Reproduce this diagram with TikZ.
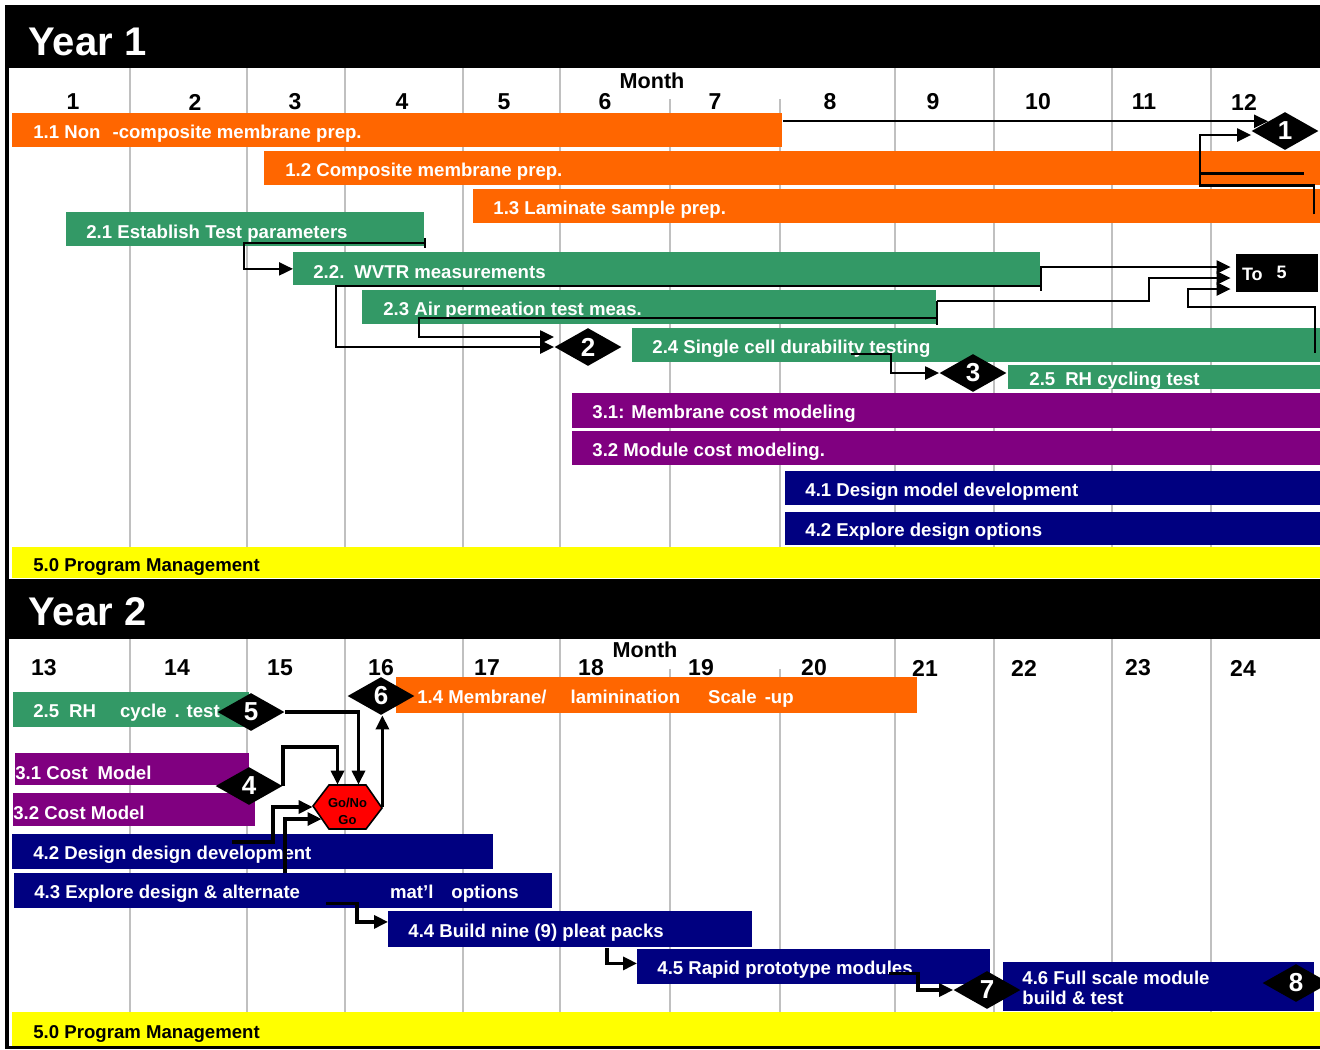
\documentclass[tikz,border=0pt]{standalone}
\usepackage{fontspec}
\setmainfont{Liberation Sans}
\usetikzlibrary{shapes.geometric, arrows.meta}

\definecolor{taskorange}{HTML}{FF6600}
\definecolor{taskgreen}{HTML}{339966}
\definecolor{taskpurple}{HTML}{800080}
\definecolor{tasknavy}{HTML}{000080}
\definecolor{taskyellow}{HTML}{FFFF00}
\definecolor{gridgray}{HTML}{C0C0C0}

\begin{document}
\begin{tikzpicture}[x=0.5pt, y=-0.5pt,
		task/.style={rectangle, inner sep=0pt, anchor=north west},
		tasklabel/.style={anchor=west, inner sep=0pt, yshift=-1.5pt, text=white, align=left, font=\bfseries\fontsize{9.3}{10}\selectfont},
		milestone/.style={diamond, fill=black, text=white, inner sep=0pt, minimum width=33.5pt, minimum height=19pt, font=\bfseries\fontsize{13}{13}\selectfont},
		monthnum/.style={inner sep=0pt, font=\bfseries\fontsize{11.5}{12}\selectfont},
		monthtitle/.style={inner sep=0pt, font=\bfseries\fontsize{10.8}{11}\selectfont},
		yeartitle/.style={anchor=west, inner sep=0pt, text=white, font=\bfseries\fontsize{20}{20}\selectfont},
		gridline/.style={gridgray, line width=1pt},
		link/.style={line width=1.1pt, -{Triangle[length=7pt, width=6.5pt]}},
		thicklink/.style={link, line width=1.6pt},
		tick/.style={line width=1.1pt}]
	\fill[white] (0,0) rectangle (1320,1049);
	\useasboundingbox (0,0) rectangle (1320,1049);
	
	% Year bands and frame
	\fill[black] (5,5) rectangle (1320,68);
	\fill[black] (5,579) rectangle (1320,639);
	\fill[black] (5,5) rectangle (9,1049);
	\fill[black] (5,1046) rectangle (1320,1049);
	\node[yeartitle] (year1) at (28,42) {Year 1};
	\node[yeartitle] (year2) at (28,612) {Year 2};
	
	% Month grid
	\foreach \gx in {130,247,345,463,560,895,994,1112,1211} {
		\draw[gridline] (\gx,68) -- (\gx,547);
		\draw[gridline] (\gx,639) -- (\gx,1012);
	}
	\foreach \gx in {670,780} {
		\draw[gridline] (\gx,99) -- (\gx,547);
		\draw[gridline] (\gx,669) -- (\gx,1012);
	}
	\node[monthtitle] (month1) at (652,81) {Month};
	\node[monthtitle] (month2) at (645,650) {Month};
	\foreach \mx/\mn in {73/1,195/2,295/3,402/4,504/5,605/6,715/7,830/8,933/9,1038/10,1144/11,1244/12}
		\node[monthnum] (mo\mn) at (\mx,102) {\mn};
	\foreach \mx/\mn in {44/13,177/14,280/15,381/16,487/17,591/18,701/19,814/20,925/21,1024/22,1138/23,1243/24}
		\node[monthnum] (mo\mn) at (\mx,668) {\mn};
	
	% Year 1 tasks
	\node[task, fill=taskorange, minimum width=385pt, minimum height=17pt] (t11) at (12,113) {};
	\node[tasklabel] (l11) at ([xshift=10.5pt]t11.west) {1.1 Non\hspace{6pt}-composite membrane prep.};
	\node[task, fill=taskorange, minimum width=528pt, minimum height=17pt] (t12) at (264,151) {};
	\node[tasklabel] (l12) at ([xshift=10.5pt]t12.west) {1.2 Composite membrane prep.};
	\node[task, fill=taskorange, minimum width=423.5pt, minimum height=17pt] (t13) at (473,189) {};
	\node[tasklabel] (l13) at ([xshift=10pt]t13.west) {1.3 Laminate sample prep.};
	\node[task, fill=taskgreen, minimum width=179pt, minimum height=17pt] (t21) at (66,212) {};
	\node[tasklabel] (l21) at ([xshift=10pt,yshift=-0.5pt]t21.west) {2.1 Establish Test parameters};
	\node[task, fill=taskgreen, minimum width=373.5pt, minimum height=16.5pt] (t22) at (293,252) {};
	\node[tasklabel] (l22) at ([xshift=10pt]t22.west) {2.2.\hspace{5pt}WVTR measurements};
	\node[task, fill=taskgreen, minimum width=287pt, minimum height=17pt] (t23) at (362,290) {};
	\node[tasklabel] (l23) at ([xshift=10.5pt]t23.west) {2.3 Air permeation test meas.};
	\node[task, fill=taskgreen, minimum width=344pt, minimum height=17pt] (t24) at (632,328) {};
	\node[tasklabel] (l24) at ([xshift=10pt]t24.west) {2.4 Single cell durability testing};
	\node[task, fill=taskgreen, minimum width=156pt, minimum height=12pt] (t25) at (1008,365) {};
	\node[tasklabel] (l25) at ([xshift=10.5pt]t25.west) {2.5\hspace{5pt}RH cycling test};
	\node[task, fill=taskpurple, minimum width=374pt, minimum height=17.5pt] (t31) at (572,393) {};
	\node[tasklabel] (l31) at ([xshift=10pt]t31.west) {3.1: Membrane cost modeling};
	\node[task, fill=taskpurple, minimum width=374pt, minimum height=17pt] (t32) at (572,431) {};
	\node[tasklabel] (l32) at ([xshift=10pt]t32.west) {3.2 Module cost modeling.};
	\node[task, fill=tasknavy, minimum width=267.5pt, minimum height=17pt] (t41) at (785,471) {};
	\node[tasklabel] (l41) at ([xshift=10pt]t41.west) {4.1 Design model development};
	\node[task, fill=tasknavy, minimum width=267.5pt, minimum height=16.5pt] (t42) at (785,512) {};
	\node[tasklabel] (l42) at ([xshift=10pt]t42.west) {4.2 Explore design options};
	\node[task, fill=taskyellow, minimum width=654pt, minimum height=15.5pt] (t50) at (12,547) {};
	\node[tasklabel, text=black] (l50) at ([xshift=10.5pt,yshift=-0.5pt]t50.west) {5.0 Program Management};
	
	% Year 2 tasks
	\node[task, fill=taskgreen, minimum width=118pt, minimum height=17.5pt] (u25) at (13,692) {};
	\node[tasklabel] (m25) at ([xshift=10pt]u25.west) {2.5\hspace{5pt}RH\hspace{12pt}cycle\hspace{4pt}. test};
	\node[task, fill=taskorange, minimum width=260.5pt, minimum height=18pt] (u14) at (396,677) {};
	\node[tasklabel] (m14) at ([xshift=10.5pt]u14.west) {1.4 Membrane/\hspace{12pt}laminination\hspace{14pt}Scale\hspace{4pt}-up};
	\node[task, fill=taskpurple, minimum width=117pt, minimum height=16pt] (u31) at (15,753) {};
	\node[tasklabel] (m31) at (u31.west) {3.1 Cost\hspace{5pt}Model};
	\node[task, fill=taskpurple, minimum width=121pt, minimum height=16.5pt] (u32) at (13,793) {};
	\node[tasklabel] (m32) at (u32.west) {3.2 Cost Model};
	\node[task, fill=tasknavy, minimum width=240.5pt, minimum height=17.5pt] (u42) at (12,834) {};
	\node[tasklabel] (m42) at ([xshift=10.5pt]u42.west) {4.2 Design design development};
	\node[task, fill=tasknavy, minimum width=269pt, minimum height=17.5pt] (u43) at (14,873) {};
	\node[tasklabel] (m43) at ([xshift=10pt]u43.west) {4.3 Explore design \& alternate\hspace{45pt}mat’l\hspace{9pt}options};
	\node[task, fill=tasknavy, minimum width=182pt, minimum height=18pt] (u44) at (388,911) {};
	\node[tasklabel] (m44) at ([xshift=10pt]u44.west) {4.4 Build nine (9) pleat packs};
	\node[task, fill=tasknavy, minimum width=176.5pt, minimum height=17.5pt] (u45) at (637,949) {};
	\node[tasklabel] (m45) at ([xshift=10pt]u45.west) {4.5 Rapid prototype modules};
	\node[task, fill=tasknavy, minimum width=155.5pt, minimum height=24.5pt] (u46) at (1003,962) {};
	\node[tasklabel] (m46) at ([xshift=9.5pt,yshift=1pt]u46.west) {4.6 Full scale module\\build \& test};
	\node[task, fill=taskyellow, minimum width=654pt, minimum height=17pt] (u50) at (12,1012) {};
	\node[tasklabel, text=black] (m50) at ([xshift=10.5pt,yshift=-1pt]u50.west) {5.0 Program Management};
	
	% Milestones
	\node[milestone] (ms1) at (1285,131) {1};
	\node[milestone] (ms2) at (588,347) {2};
	\node[milestone] (ms3) at (973,373) {3};
	\node[milestone] (ms4) at (249,786) {4};
	\node[milestone] (ms5) at (251,712) {5};
	\node[milestone] (ms6) at (381,696) {6};
	\node[milestone] (ms7) at (987,990) {7};
	\node[milestone] (ms8) at (1296,983) {8};
	\node[fill=black, text=white, inner xsep=3pt, inner ysep=0pt, text width=35pt, minimum height=19pt, align=left, font=\bfseries\fontsize{9}{9}\selectfont] (to5) at (1277,273) {To\hspace{7pt}\raisebox{1pt}{5}};
	
	% Go/No Go decision
	\draw[fill=red, line width=0.8pt] (313,806) -- (329,785) -- (366,785) -- (382,808) -- (366,829) -- (329,829) -- cycle;
	\node[inner sep=0pt, minimum width=34.5pt, minimum height=22pt, text height=17.5pt, align=center, font=\bfseries\fontsize{6.5}{8.5}\selectfont] (gng) at (347.5,807) {Go/No\\Go};
	
	% Year 1 links
	\draw[link] (t11.east |- ms1.north west) -- (ms1.north west);
	\draw[link] ([xshift=-8.5pt,yshift=-2.5pt]t12.east) -- ++(-104,0) |- ([yshift=-2pt]ms1.west);
	\draw[tick] ([xshift=-3.5pt,yshift=-4pt]t13.east) -- ++(0,-29) -- ++(-114,0) -- ++(0,-12);
	\draw[tick] ([yshift=-0.5pt]t21.south east) -- ++(0,-10);
	\draw[link] ([yshift=2pt]t21.south east) -- ++(-181,0) |- (t22.west);
	\draw[tick] ([yshift=-2.5pt]t22.south east) -- ++(0,-25);
	\draw[link] (t22.south east) -- ++(-705,0) |- (ms2.west);
	\draw[link] (t22.south east) |- ([xshift=-2.5pt,yshift=3pt]to5.west);
	\draw[tick] (t23.south east) -- ++(0,-24);
	\draw[link] ([yshift=3.5pt]t23.south east) -- ++(-518,0) |- ([yshift=5pt]ms2.west);
	\draw[link] ([yshift=12pt]t23.south east) -- ++(212,0) |- ([xshift=-2.5pt,yshift=-2.5pt]to5.west);
	\draw[link] ([xshift=-3pt,yshift=5pt]t24.south east) -- ++(0,-46) -- ++(-127,0) |- ([xshift=-2.5pt,yshift=-8pt]to5.west);
	\draw[link] ([xshift=109.5pt,yshift=4.5pt]t24.south west) -- ++(40,0) |- (ms3.west);
	
	% Year 2 links
	\draw[thicklink] (ms5.east) -| ([xshift=5.5pt]gng.north);
	\draw[thicklink] (ms4.east) -- ++(0,-39) -| ([xshift=-5pt]gng.north);
	\draw[thicklink] (gng.east) -- (gng.east |- ms6.south);
	\draw[thicklink] ([xshift=110pt,yshift=-4pt]u42.north west) -- ++(41,0) |- (gng.west);
	\draw[thicklink] ([xshift=135.5pt]u43.north west) |- ([xshift=-13pt,yshift=-6pt]gng.center);
	\draw[thicklink] ([xshift=156pt,yshift=2.5pt]u43.south west) -- ++(31,0) |- ([yshift=3.75pt]u44.west);
	\draw[thicklink] ([xshift=109.5pt]u44.south west) |- ([yshift=1.75pt]u45.west);
	\draw[thicklink] ([xshift=126pt,yshift=-3.25pt]u45.west) -- ++(29,0) |- (ms7.west);
\end{tikzpicture}
\end{document}
